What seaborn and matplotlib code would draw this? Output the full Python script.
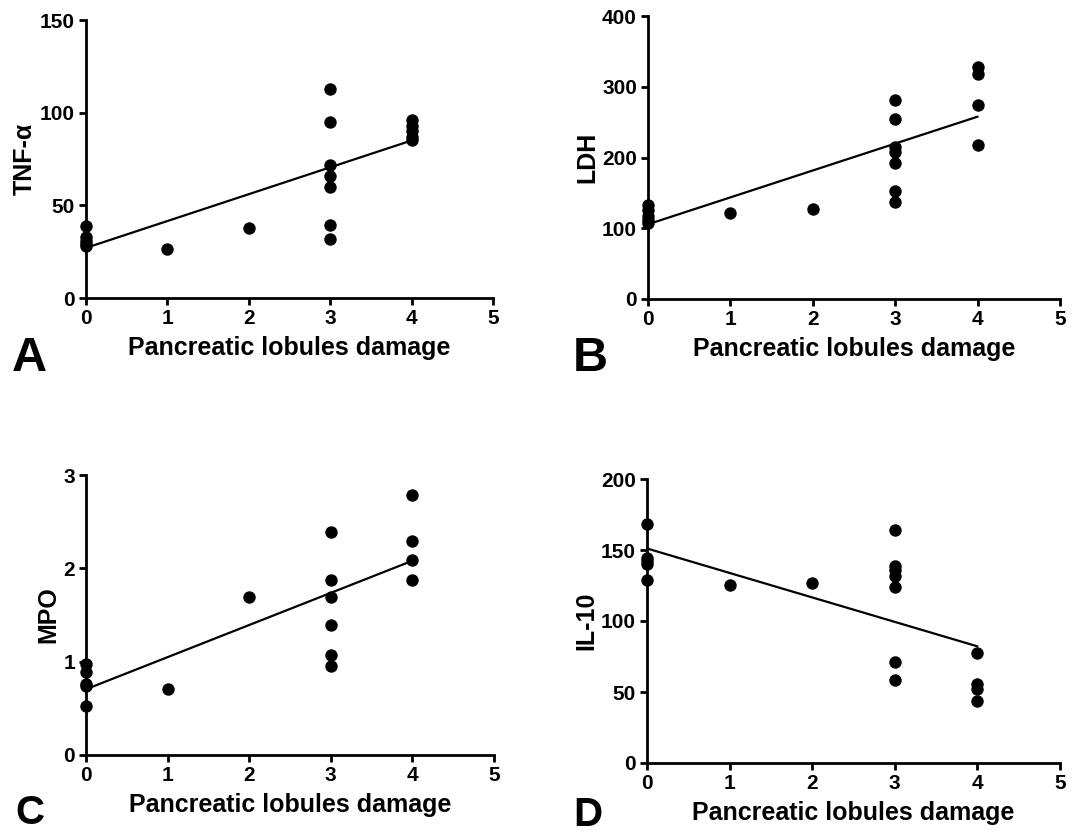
import numpy as np
import matplotlib
matplotlib.use("Agg")
import matplotlib.pyplot as plt
import seaborn as sns

# Data: damage score vs marker level
tnf_x = [0, 0, 0, 0, 0, 1, 2, 3, 3, 3, 3, 3, 3, 3, 4, 4, 4, 4, 4]
tnf_y = [39, 33, 31, 29, 28, 26.4, 38, 112.6, 94.7, 71.9, 65.6, 59.8, 39.3, 32, 96, 93, 90, 87, 85]

ldh_x = [0, 0, 0, 0, 0, 1, 2, 3, 3, 3, 3, 3, 3, 3, 4, 4, 4, 4]
ldh_y = [133, 126, 118, 112, 108, 121, 126.7, 281, 254, 215, 208, 192, 153, 136.6, 328, 318, 274, 217.7]

mpo_x = [0, 0, 0, 0, 0, 1, 2, 3, 3, 3, 3, 3, 3, 4, 4, 4, 4]
mpo_y = [0.98, 0.89, 0.76, 0.74, 0.52, 0.71, 1.69, 2.39, 1.88, 1.69, 1.39, 1.07, 0.95, 2.79, 2.29, 2.09, 1.88]

il10_x = [0, 0, 0, 0, 0, 1, 2, 3, 3, 3, 3, 3, 3, 3, 4, 4, 4, 4]
il10_y = [168.2, 144.2, 142.6, 140.2, 128.9, 125.4, 127, 164.2, 138.8, 136, 131.8, 124.2, 71.3, 58.8, 77.6, 55.5, 51.8, 43.5]

panels = [
    ("A", "TNF-\u03b1", tnf_x, tnf_y, 150, [0, 50, 100, 150]),
    ("B", "LDH", ldh_x, ldh_y, 400, [0, 100, 200, 300, 400]),
    ("C", "MPO", mpo_x, mpo_y, 3, [0, 1, 2, 3]),
    ("D", "IL-10", il10_x, il10_y, 200, [0, 50, 100, 150, 200]),
]

sns.set_style("ticks")
plt.rcParams['font.family'] = ['Liberation Sans', 'DejaVu Sans']
plt.rcParams['font.weight'] = 'bold'
plt.rcParams['text.color'] = 'black'
plt.rcParams['axes.labelcolor'] = 'black'
plt.rcParams['xtick.color'] = 'black'
plt.rcParams['ytick.color'] = 'black'

W, H = 1079, 835
fig = plt.figure(figsize=(W / 100, H / 100), dpi=100)

# axes boxes in pixels: left, right, top, bottom
boxes = [(86, 493, 20, 298), (648, 1060, 16, 299), (86, 494, 475, 755), (647, 1060, 479, 763)]
# panel letter: x, baseline, size
letter_pos = [(12, 371, 35), (573, 371, 35), (15, 824, 29), (573, 826, 29)]

for (letter, ylab, xs, ys, ymax, yticks), (l, r, t, b), (lx, ly, lsz) in zip(panels, boxes, letter_pos):
    ax = fig.add_axes([l / W, 1 - b / H, (r - l) / W, (b - t) / H])
    sns.regplot(x=np.array(xs), y=np.array(ys), ax=ax, ci=None, truncate=True,
                color="black",
                scatter_kws={"s": 80, "clip_on": False, "zorder": 5, "alpha": 1, "linewidths": 0},
                line_kws={"lw": 1.6, "clip_on": False})
    ax.set_xlim(0, 5)
    ax.set_ylim(0, ymax)
    ax.set_xticks([0, 1, 2, 3, 4, 5])
    ax.set_yticks(yticks)
    ax.set_xlabel("Pancreatic lobules damage", fontsize=18, fontweight="bold", labelpad=6, color="black")
    ax.set_ylabel(ylab, fontsize=18, fontweight="bold", labelpad=2, color="black")
    for s in ["top", "right"]:
        ax.spines[s].set_visible(False)
    for s in ["left", "bottom"]:
        ax.spines[s].set_linewidth(2)
        ax.spines[s].set_color("black")
    ax.tick_params(width=2, length=5, labelsize=15, colors="black", direction="out", pad=3)
    for lab in ax.get_xticklabels() + ax.get_yticklabels():
        lab.set_fontweight("bold")
    fig.text(lx / W, 1 - ly / H, letter, fontsize=lsz, fontweight="bold", va="baseline", ha="left",
             color="black")

fig.savefig("out.png", dpi=100)
